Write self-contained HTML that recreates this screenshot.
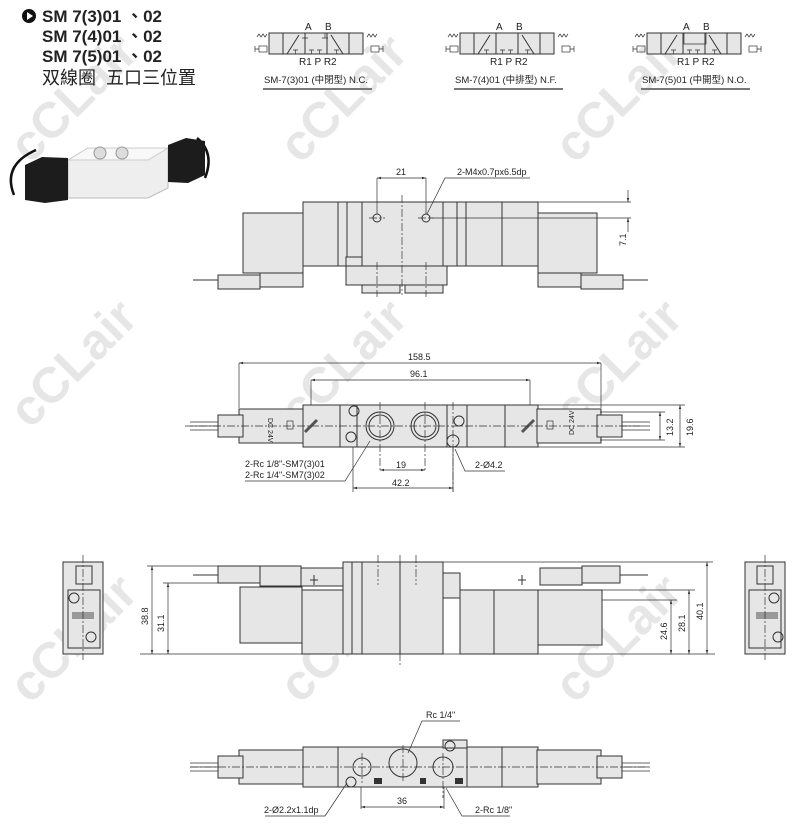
<!DOCTYPE html>
<html><head><meta charset="utf-8"><style>
html,body{margin:0;padding:0;background:#fff}
svg{display:block}
text{font-family:"Liberation Sans","Noto Sans CJK TC",sans-serif;fill:#222}
.l{stroke:#333;stroke-width:1;fill:none}
.f{stroke:#333;stroke-width:1;fill:#e6e6e6}
.d{stroke:#333;stroke-width:0.7;fill:none}
.c{stroke:#333;stroke-width:0.7;fill:none;stroke-dasharray:8 2 2 2}
.wm{font-family:"Liberation Sans",sans-serif;font-weight:bold;font-size:50px;fill:#e6e6e6}
</style></head><body>
<svg width="800" height="827" viewBox="0 0 800 827" xmlns="http://www.w3.org/2000/svg">
<defs>
<marker id="a" viewBox="0 0 10 10" refX="10" refY="5" markerWidth="6" markerHeight="6" orient="auto-start-reverse"><path d="M0,2 L10,5 L0,8z" fill="#333"/></marker>
<g id="sym">
<rect x="0" y="0" width="94" height="21" class="f" stroke-width="0.8"/>
<line x1="14" y1="0" x2="14" y2="21" class="l"/><line x1="80" y1="0" x2="80" y2="21" class="l"/>
<line x1="36" y1="0" x2="36" y2="21" class="l"/><line x1="58" y1="0" x2="58" y2="21" class="l"/>
<line x1="18" y1="21" x2="30" y2="2" class="l"/><line x1="62" y1="2" x2="74" y2="21" class="l"/>
<path d="M-12,4 l2,-3 2,3 2,-3 2,3 2,-3 M98,4 l2,-3 2,3 2,-3 2,3 2,-3" class="d"/>
<rect x="-10" y="13" width="8" height="6" class="d"/><rect x="102" y="13" width="8" height="6" class="d"/>
<path d="M-14,13 v6 M-14,16 h4 M114,13 v6 M110,16 h4" class="d"/>
<path d="M24,17 h5 M26.5,17 v4 M40,17 h5 M42.5,17 v4 M48,17 h5 M50.5,17 v4 M65,17 h5 M67.5,17 v4" class="d"/>
</g>
<g id="sol">
<rect x="0" y="0" width="64" height="34" class="f"/>
<rect x="-21" y="6" width="25" height="22" class="f"/>
<path d="M-21,13 h-28 M-21,17 h-28 M-21,21 h-28" class="d"/>
</g>
</defs>

<!-- watermarks -->
<g transform="translate(30,165) rotate(-45)"><text class="wm">cCLair</text></g>
<g transform="translate(300,165) rotate(-45)"><text class="wm">cCLair</text></g>
<g transform="translate(575,165) rotate(-45)"><text class="wm">cCLair</text></g>
<g transform="translate(30,430) rotate(-45)"><text class="wm">cCLair</text></g>
<g transform="translate(300,430) rotate(-45)"><text class="wm">cCLair</text></g>
<g transform="translate(575,430) rotate(-45)"><text class="wm">cCLair</text></g>
<g transform="translate(30,705) rotate(-45)"><text class="wm">cCLair</text></g>
<g transform="translate(300,705) rotate(-45)"><text class="wm">cCLair</text></g>
<g transform="translate(575,705) rotate(-45)"><text class="wm">cCLair</text></g>

<!-- title -->
<circle cx="29" cy="16" r="7" fill="#111"/><path d="M27,12 L33,16 L27,20z" fill="#fff"/>
<text x="42" y="22" font-size="17" font-weight="bold">SM 7(3)01 、02</text>
<text x="42" y="42" font-size="17" font-weight="bold">SM 7(4)01 、02</text>
<text x="42" y="62" font-size="17" font-weight="bold">SM 7(5)01 、02</text>
<text x="42" y="84" font-size="18">双線圈&#160;&#160;五口三位置</text>

<!-- symbols -->
<use href="#sym" x="269" y="33"/>
<text x="305" y="30" font-size="10">A</text><text x="325" y="30" font-size="10">B</text>
<path d="M302,38 h6 M305,38 v-5 M322,38 h6 M325,38 v-5" class="d"/>
<text x="299" y="65" font-size="10">R1 P R2</text>
<text x="264" y="83" font-size="9.5">SM-7(3)01 (中閉型) N.C.</text>
<line x1="263" y1="89" x2="372" y2="89" stroke="#777" stroke-width="2"/>

<use href="#sym" x="460" y="33"/>
<text x="496" y="30" font-size="10">A</text><text x="516" y="30" font-size="10">B</text>
<text x="490" y="65" font-size="10">R1 P R2</text>
<text x="455" y="83" font-size="9.5">SM-7(4)01 (中排型) N.F.</text>
<line x1="454" y1="89" x2="563" y2="89" stroke="#777" stroke-width="2"/>

<use href="#sym" x="647" y="33"/>
<path d="M684,33 v11 h22 v-11" class="d"/>
<text x="683" y="30" font-size="10">A</text><text x="703" y="30" font-size="10">B</text>
<text x="677" y="65" font-size="10">R1 P R2</text>
<text x="642" y="83" font-size="9.5">SM-7(5)01 (中開型) N.O.</text>
<line x1="641" y1="89" x2="750" y2="89" stroke="#777" stroke-width="2"/>

<!-- photo -->
<g>
<path d="M14,195 q-12,-30 22,-45" stroke="#111" stroke-width="2.5" fill="none"/>
<path d="M205,178 q10,-25 -8,-40" stroke="#111" stroke-width="2.5" fill="none"/>
<polygon points="68,160 88,148 168,148 168,188 148,198 68,198" fill="#eeeeee" stroke="#bbb"/>
<polygon points="68,160 88,148 168,148 148,160" fill="#f8f8f8" stroke="#ccc"/>
<circle cx="100" cy="153" r="6" fill="#ddd" stroke="#999"/><circle cx="122" cy="153" r="6" fill="#ddd" stroke="#999"/>
<polygon points="25,165 42,157 68,158 68,200 45,203 25,200" fill="#1c1c1c"/>
<polygon points="168,145 186,138 205,141 205,175 188,183 168,182" fill="#1c1c1c"/>
</g>

<!-- VIEW 1: top/side -->
<rect x="243" y="213" width="60" height="60" class="f"/>
<rect x="303" y="202" width="163" height="64" class="f"/>
<rect x="466" y="202" width="72" height="64" class="f"/>
<rect x="538" y="213" width="59" height="60" class="f"/>
<path d="M338,202 v64 M347,202 v64 M362,202 v64 M443,202 v64 M457,202 v64 M502,202 v64" class="l"/>
<rect x="346" y="266" width="101" height="19" class="f"/>
<rect x="362" y="285" width="38" height="8" class="f"/><rect x="405" y="285" width="38" height="8" class="f"/>
<rect x="346" y="257" width="16" height="9" class="f"/>
<rect x="260" y="273" width="43" height="14" class="f"/><rect x="218" y="275" width="42" height="14" class="f"/>
<rect x="538" y="273" width="43" height="14" class="f"/><rect x="581" y="275" width="42" height="14" class="f"/>
<path d="M193,280 h25 M623,280 h25" class="l" stroke-width="2"/>
<circle cx="377" cy="218" r="4" class="l"/><circle cx="426" cy="218" r="4" class="l"/>
<path d="M369,218 h16 M418,218 h16 M402,195 v100 M377,262 v35 M426,262 v35" class="c"/>
<path d="M377,178 v36 M426,178 v36" class="d"/>
<line x1="377" y1="178" x2="426" y2="178" class="d" marker-start="url(#a)" marker-end="url(#a)"/>
<text x="396" y="175" font-size="9">21</text>
<text x="457" y="175" font-size="9">2-M4x0.7px6.5dp</text>
<path d="M530,178 h-85 l-18,36" class="d"/>
<path d="M466,202 h165 M430,218 h201" class="d"/>
<line x1="628" y1="190" x2="628" y2="202" class="d" marker-end="url(#a)"/>
<line x1="628" y1="232" x2="628" y2="218" class="d" marker-end="url(#a)"/>
<text x="0" y="0" font-size="9" transform="translate(626,246) rotate(-90)">7.1</text>

<!-- VIEW 2: top -->
<rect x="303" y="405" width="235" height="42" class="f"/>
<use href="#sol" x="239" y="409"/>
<g transform="translate(840,0) scale(-1,1)"><use href="#sol" x="239" y="409"/></g>
<path d="M340,405 v42 M357,405 v42 M447,405 v42 M467,405 v42 M505,405 v42" class="l"/>
<circle cx="380" cy="426" r="14" class="l"/><circle cx="380" cy="426" r="11" class="l"/>
<circle cx="425" cy="426" r="14" class="l"/><circle cx="425" cy="426" r="11" class="l"/>
<circle cx="354" cy="411" r="5" class="l"/><circle cx="351" cy="437" r="5" class="l"/>
<circle cx="459" cy="421" r="5" class="l"/><circle cx="453" cy="441" r="6" class="f"/>
<text font-size="7" transform="translate(268,418) rotate(90)">DC 24V</text>
<text font-size="7" transform="translate(574,435) rotate(-90)">DC 24V</text>
<rect x="287" y="421" width="6" height="8" class="d"/><rect x="547" y="421" width="6" height="8" class="d"/>
<path d="M305,432 l12,-12 M522,432 l12,-12" stroke="#555" stroke-width="3"/>
<line x1="185" y1="426" x2="640" y2="426" class="c"/>
<path d="M380,402 v70 M425,402 v70 M453,402 v90" class="c"/>
<path d="M239,363 v45 M601,363 v45 M311,380 v25 M530,380 v25" class="d"/>
<line x1="239" y1="363" x2="601" y2="363" class="d" marker-start="url(#a)" marker-end="url(#a)"/>
<text x="408" y="360" font-size="9">158.5</text>
<line x1="311" y1="380" x2="530" y2="380" class="d" marker-start="url(#a)" marker-end="url(#a)"/>
<text x="410" y="377" font-size="9">96.1</text>
<path d="M600,412 h65 M600,440 h65 M538,405 h147 M538,447 h147" class="d"/>
<line x1="660" y1="412" x2="660" y2="440" class="d" marker-start="url(#a)" marker-end="url(#a)"/>
<line x1="680" y1="405" x2="680" y2="447" class="d" marker-start="url(#a)" marker-end="url(#a)"/>
<text font-size="9" transform="translate(673,436) rotate(-90)">13.2</text>
<text font-size="9" transform="translate(693,436) rotate(-90)">19.6</text>
<line x1="380" y1="470" x2="425" y2="470" class="d" marker-start="url(#a)" marker-end="url(#a)"/>
<text x="396" y="468" font-size="9">19</text>
<path d="M353,447 v45 M453,447 v45" class="d"/>
<line x1="353" y1="488" x2="453" y2="488" class="d" marker-start="url(#a)" marker-end="url(#a)"/>
<text x="392" y="486" font-size="9">42.2</text>
<text x="245" y="467" font-size="9">2-Rc 1/8"-SM7(3)01</text>
<text x="245" y="478" font-size="9">2-Rc 1/4"-SM7(3)02</text>
<path d="M245,481 h100 l25,-40" class="d"/>
<text x="475" y="468" font-size="9">2-Ø4.2</text>
<path d="M505,471 h-40 l-10,-22" class="d"/>

<!-- VIEW 3: front -->
<rect x="63" y="562" width="40" height="92" class="f"/>
<rect x="68" y="590" width="32" height="58" class="l"/>
<rect x="76" y="566" width="16" height="18" class="l"/>
<circle cx="74" cy="598" r="5" class="l"/><circle cx="91" cy="637" r="5" class="l"/>
<rect x="72" y="612" width="22" height="7" fill="#999"/>
<line x1="83" y1="555" x2="83" y2="660" class="c"/>
<rect x="745" y="562" width="40" height="92" class="f"/>
<rect x="749" y="590" width="32" height="58" class="l"/>
<rect x="757" y="566" width="16" height="18" class="l"/>
<circle cx="774" cy="598" r="5" class="l"/><circle cx="778" cy="637" r="5" class="l"/>
<rect x="756" y="612" width="22" height="7" fill="#999"/>
<line x1="765" y1="555" x2="765" y2="660" class="c"/>

<rect x="240" y="587" width="62" height="56" class="f"/>
<rect x="302" y="590" width="41" height="64" class="f"/>
<rect x="300" y="568" width="43" height="18" class="f"/>
<rect x="343" y="562" width="100" height="92" class="f"/>
<rect x="443" y="573" width="17" height="25" class="f"/>
<rect x="460" y="590" width="78" height="64" class="f"/>
<rect x="538" y="590" width="64" height="55" class="f"/>
<path d="M352,562 v92 M362,562 v92 M400,562 v92 M443,598 v56 M494,590 v64" class="l"/>
<rect x="260" y="566" width="41" height="20" class="f"/><rect x="218" y="566" width="42" height="17" class="f"/>
<rect x="540" y="568" width="42" height="17" class="f"/><rect x="582" y="566" width="38" height="17" class="f"/>
<path d="M193,575 h25 M620,575 h28" class="l" stroke-width="2"/>
<path d="M310,580 h8 M314,575 v10 M518,580 h8 M522,575 v10" class="l" stroke-width="2"/>
<path d="M400,555 v110 M378,555 v30 M416,555 v30" class="c"/>
<path d="M147,566 h72 M163,583 h77 M602,590 h93 M602,600 h75 M443,562 h270 M140,654 h575" class="d"/>
<line x1="152" y1="566" x2="152" y2="654" class="d" marker-start="url(#a)" marker-end="url(#a)"/>
<line x1="168" y1="583" x2="168" y2="654" class="d" marker-start="url(#a)" marker-end="url(#a)"/>
<line x1="671" y1="600" x2="671" y2="654" class="d" marker-start="url(#a)" marker-end="url(#a)"/>
<line x1="689" y1="590" x2="689" y2="654" class="d" marker-start="url(#a)" marker-end="url(#a)"/>
<line x1="707" y1="562" x2="707" y2="654" class="d" marker-start="url(#a)" marker-end="url(#a)"/>
<text font-size="9" transform="translate(148,625) rotate(-90)">38.8</text>
<text font-size="9" transform="translate(164,632) rotate(-90)">31.1</text>
<text font-size="9" transform="translate(667,640) rotate(-90)">24.6</text>
<text font-size="9" transform="translate(685,632) rotate(-90)">28.1</text>
<text font-size="9" transform="translate(703,620) rotate(-90)">40.1</text>

<!-- VIEW 4: bottom -->
<rect x="303" y="747" width="235" height="40" class="f"/>
<rect x="443" y="740" width="24" height="8" class="f"/>
<use href="#sol" x="239" y="750"/>
<g transform="translate(840,0) scale(-1,1)"><use href="#sol" x="239" y="750"/></g>
<path d="M338,747 v40 M467,747 v40 M502,747 v40" class="l"/>
<circle cx="362" cy="767" r="9" class="l"/><circle cx="403" cy="763" r="14" class="l"/><circle cx="443" cy="767" r="10" class="l"/>
<circle cx="351" cy="782" r="5" class="l"/><circle cx="450" cy="746" r="5" class="l"/>
<rect x="374" y="778" width="8" height="6" fill="#333"/><rect x="420" y="778" width="6" height="6" fill="#333"/><rect x="455" y="778" width="8" height="6" fill="#333"/>
<line x1="190" y1="767" x2="645" y2="767" class="c"/>
<path d="M362,753 v30 M443,753 v45 M403,745 v38" class="c"/>
<path d="M361,787 v22 M444,787 v22" class="d"/>
<line x1="361" y1="807" x2="444" y2="807" class="d" marker-start="url(#a)" marker-end="url(#a)"/>
<text x="397" y="804" font-size="9">36</text>
<text x="426" y="718" font-size="9">Rc 1/4"</text>
<path d="M460,721 h-38 l-14,32" class="d"/>
<text x="264" y="813" font-size="9">2-Ø2.2x1.1dp</text>
<path d="M265,816 h60 l22,-33" class="d"/>
<text x="475" y="813" font-size="9">2-Rc 1/8"</text>
<path d="M510,816 h-48 l-16,-28" class="d"/>
</svg>
</body></html>
